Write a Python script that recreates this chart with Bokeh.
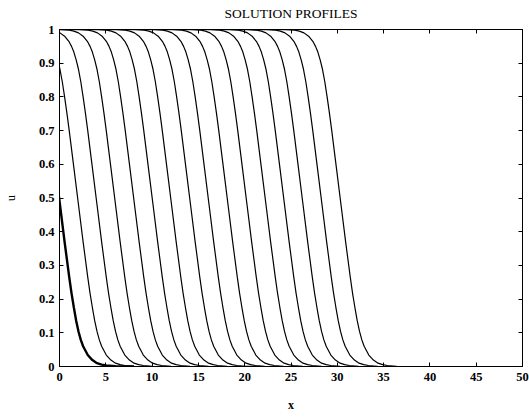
import numpy as np
from bokeh.plotting import figure
from bokeh.models import Range1d, LinearAxis, FixedTicker
from bokeh.embed import file_html
from bokeh.resources import INLINE

# Positions (x) where each profile crosses u ~ 0.48
FRONT_X = [0.05, 2.05, 4.05, 6.05, 8.1, 10.1, 12.1, 14.15, 16.15, 18.2,
           20.25, 22.3, 24.3, 26.3, 28.35, 30.4]
# Shape of one wave profile (offset from crossing, u)
PROFILE_DX = [-8, -6, -5, -4.5, -4, -3.5, -3, -2.75, -2.5, -2.25, -2, -1.75, -1.5,
              -1.25, -1, -0.5, 0, 0.5, 1, 1.25, 1.5, 1.75, 2, 2.25, 2.5, 3, 3.5,
              4, 4.5, 5, 6, 8]
PROFILE_U = [1.0, 0.9995, 0.998, 0.995, 0.99, 0.98, 0.963, 0.95, 0.933, 0.91, 0.882,
             0.845, 0.8, 0.752, 0.7, 0.59, 0.48, 0.37, 0.265, 0.217, 0.175, 0.136,
             0.104, 0.079, 0.06, 0.034, 0.019, 0.01, 0.0055, 0.003, 0.0008, 0.0]
X_TICKS = [0, 5, 10, 15, 20, 25, 30, 35, 40, 45, 50]
Y_TICKS = [0, 0.1, 0.2, 0.3, 0.4, 0.5, 0.6, 0.7, 0.8, 0.9, 1]
Y_LABELS = ["0", "0.1", "0.2", "0.3", "0.4", "0.5", "0.6", "0.7", "0.8", "0.9", "1"]
TITLE = "SOLUTION PROFILES"

SERIF = "Liberation Serif"

p = figure(width=529, height=418, output_backend="svg", toolbar_location=None,
           x_range=Range1d(0, 50), y_range=Range1d(0, 1),
           min_border_left=59, min_border_right=7, min_border_top=29,
           min_border_bottom=52, title=None)

p.xgrid.visible = False
p.ygrid.visible = False
p.outline_line_color = "black"
p.outline_line_width = 1
p.background_fill_color = "white"
p.border_fill_color = "white"

dx = np.array(PROFILE_DX)
for i, c in enumerate(FRONT_X):
    lw = 2.4 if i == 0 else 1.2
    p.line(dx + c, PROFILE_U, line_color="black", line_width=lw)

def style(ax, labels=True):
    ax.major_tick_in = 4
    ax.major_tick_out = 0
    ax.minor_tick_in = 0
    ax.minor_tick_out = 0
    ax.axis_line_color = "black"
    ax.major_tick_line_color = "black"
    ax.major_label_text_font = SERIF
    ax.major_label_text_font_style = "bold"
    ax.major_label_text_font_size = "12.5px" if labels else "1px"
    ax.major_label_text_color = "black"
    ax.axis_label_text_font = SERIF
    ax.axis_label_text_font_style = "bold"
    ax.axis_label_text_font_size = "12px"
    ax.axis_label_text_color = "black"
    if not labels:
        ax.major_label_overrides = {t: "" for t in ax.ticker.ticks}
        ax.major_label_standoff = 0

xa = p.xaxis[0]
xa.ticker = FixedTicker(ticks=X_TICKS)
xa.axis_label = "x"
xa.major_label_standoff = 6
xa.axis_label_standoff = 14
style(xa)

ya = p.yaxis[0]
ya.ticker = FixedTicker(ticks=Y_TICKS)
ya.major_label_overrides = {t: l for t, l in zip(Y_TICKS, Y_LABELS)}
ya.axis_label = "u"
ya.major_label_standoff = 5
ya.axis_label_standoff = 18
style(ya)
ya.axis_label_text_font_style = "normal"

top = LinearAxis(ticker=FixedTicker(ticks=X_TICKS))
style(top, labels=False)
top.axis_label = TITLE
top.axis_label_text_font_size = "13.5px"
top.axis_label_text_font_style = "normal"
top.axis_label_standoff = 9
p.add_layout(top, "above")
right = LinearAxis(ticker=FixedTicker(ticks=Y_TICKS))
style(right, labels=False)
p.add_layout(right, "right")

open("out.html", "w").write(file_html(p, INLINE))
